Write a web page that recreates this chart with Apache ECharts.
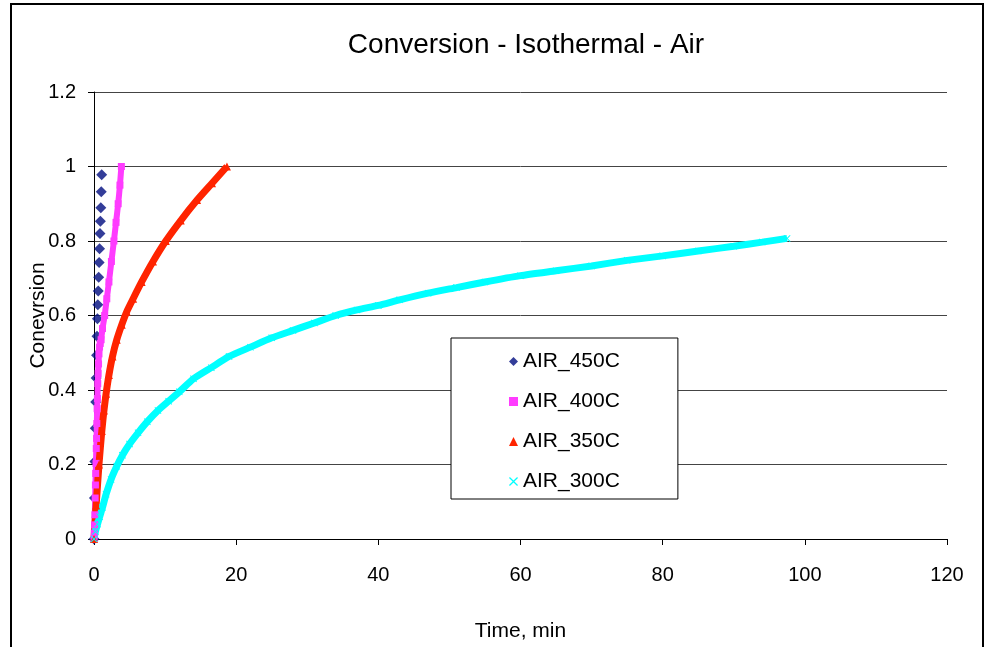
<!DOCTYPE html>
<html>
<head>
<meta charset="utf-8">
<script src="https://cdn.jsdelivr.net/npm/echarts@6/dist/echarts.min.js"></script>
<style>
  html, body { margin: 0; padding: 0; background: #fff; }
  #main { width: 985px; height: 647px; }
</style>
</head>
<body>
<div id="main"></div>
<script>
/*series names*/
var names = ['AIR_450C', 'AIR_400C', 'AIR_350C', 'AIR_300C'];

/*AIR_450C*/
var t450 = [0, 0.06, 0.12, 0.18, 0.24, 0.30, 0.36, 0.42, 0.48, 0.54, 0.60, 0.66, 0.72, 0.78, 0.84, 0.90, 0.96, 1.02, 1.08];
var c450 = [0, 0.11, 0.208, 0.297, 0.368, 0.432, 0.493, 0.544, 0.591, 0.629, 0.666, 0.703, 0.742, 0.779, 0.820, 0.853, 0.889, 0.932, 0.978];

/*AIR_400C*/
var t400 = [0, 0.04, 0.08, 0.12, 0.16, 0.2, 0.24, 0.28, 0.32, 0.36, 0.4, 0.44, 0.48, 0.53, 0.58, 0.64, 0.7, 0.78, 0.88, 1.0, 1.2, 1.5, 1.8, 2.1, 2.45, 2.8, 3.1, 3.4, 3.65, 3.85];
var c400 = [0, 0.016, 0.038, 0.065, 0.11, 0.145, 0.176, 0.203, 0.243, 0.27, 0.31, 0.35, 0.377, 0.417, 0.444, 0.47, 0.497, 0.515, 0.525, 0.535, 0.565, 0.6, 0.645, 0.69, 0.745, 0.8, 0.85, 0.9, 0.95, 1.0];

/*AIR_350C*/
var t350 = [0, 0.3, 0.7, 1.1, 1.4, 1.7, 2.1, 2.6, 3.2, 3.9, 4.6, 5.5, 6.7, 8.3, 10.1, 12.2, 14.5, 16.6, 18.7];
var c350 = [0, 0.09, 0.2, 0.29, 0.345, 0.39, 0.44, 0.49, 0.535, 0.575, 0.61, 0.645, 0.69, 0.745, 0.8, 0.855, 0.91, 0.955, 1.0];

/*AIR_300C*/
var t300 = [0, 0.2, 0.5, 0.8, 1.2, 1.7, 2.4, 3.2, 4.0, 5.0, 6.2, 7.5, 9.0, 10.5, 12.0, 14.0, 16.5, 19.0, 22.0, 25.0, 28.0, 31.0, 34.0, 37.0, 40.0, 43.0, 47.0, 51.0, 55.0, 60.0, 65.0, 70.0, 75.0, 80.0, 85.0, 90.0, 94.0, 97.5];
var c300 = [0, 0.02, 0.04, 0.06, 0.085, 0.12, 0.16, 0.195, 0.225, 0.255, 0.285, 0.315, 0.345, 0.37, 0.395, 0.43, 0.46, 0.49, 0.515, 0.54, 0.56, 0.58, 0.60, 0.615, 0.627, 0.642, 0.66, 0.675, 0.69, 0.707, 0.72, 0.733, 0.748, 0.76, 0.773, 0.786, 0.797, 0.807];

/*axis ticks*/
var xTicks = [0, 120, 20];
var yTicks = [0, 1.2, 0.2];

var FONT = '"Liberation Sans", Arial, sans-serif';
var xMark = 'path://M0,1L1,0L5,4L9,0L10,1L6,5L10,9L9,10L5,6L1,10L0,9L4,5Z';

function pairs(t, c) {
	var out = [];
	for (var i = 0; i < t.length; i++) {
		out.push([t[i], c[i]]);
	}
	return out;
}

var myChart = echarts.init(document.getElementById('main'));

var option = {
	animation: false,
	backgroundColor: '#fff',
	title: {
		text: 'Conversion - Isothermal - Air',
		left: 521,
		textAlign: 'center',
		top: 26,
		textStyle: { fontFamily: FONT, fontSize: 28, fontWeight: 'normal', color: '#000' }
	},
	graphic: [{
		type: 'rect',
		shape: { x: 11, y: 4, width: 972, height: 700 },
		style: { fill: 'none', stroke: '#000', lineWidth: 2 },
		silent: true
	}],
	grid: { left: 94, right: 38, top: 92, bottom: 106 },
	legend: {
		orient: 'vertical',
		left: 451,
		top: 338,
		padding: [13, 58, 7, 58],
		itemGap: 19,
		itemWidth: 9,
		itemHeight: 9,
		backgroundColor: '#fff',
		borderColor: '#000',
		borderWidth: 1,
		textStyle: { fontFamily: FONT, fontSize: 21, color: '#000' },
		data: [
			{ name: names[0], icon: 'diamond' },
			{ name: names[1], icon: 'rect' },
			{ name: names[2], icon: 'triangle' },
			{ name: names[3], icon: xMark }
		]
	},
	xAxis: {
		type: 'value',
		min: xTicks[0],
		max: xTicks[1],
		interval: xTicks[2],
		name: 'Time, min',
		nameLocation: 'middle',
		nameGap: 82,
		nameMoveOverlap: false,
		nameTextStyle: { fontFamily: FONT, fontSize: 21, color: '#000' },
		axisLine: { lineStyle: { color: '#000', width: 1 } },
		axisTick: { show: true, length: 6, lineStyle: { color: '#000' } },
		axisLabel: { margin: 26, fontFamily: FONT, fontSize: 20, color: '#000' },
		splitLine: { show: false }
	},
	yAxis: {
		type: 'value',
		min: yTicks[0],
		max: yTicks[1],
		interval: yTicks[2],
		name: 'Conevrsion',
		nameLocation: 'middle',
		nameRotate: 90,
		nameGap: 45,
		nameMoveOverlap: false,
		nameTextStyle: { fontFamily: FONT, fontSize: 21, color: '#000' },
		axisLine: { show: true, lineStyle: { color: '#000', width: 1 } },
		axisTick: { show: true, length: 6, lineStyle: { color: '#000' } },
		axisLabel: { margin: 18, fontFamily: FONT, fontSize: 20, color: '#000' },
		splitLine: { show: true, lineStyle: { color: '#444', width: 1 } }
	},
	series: [
		{
			name: names[0],
			type: 'scatter',
			symbol: 'diamond',
			symbolSize: 11,
			itemStyle: { color: '#000c80' },
			data: pairs(t450, c450)
		},
		{
			name: names[1],
			type: 'line',
			symbol: 'rect',
			symbolSize: 7,
			showSymbol: true,
			smooth: 0.2,
			itemStyle: { color: '#ff3cff' },
			lineStyle: { color: '#ff3cff', width: 6 },
			data: pairs(t400, c400)
		},
		{
			name: names[2],
			type: 'line',
			symbol: 'triangle',
			symbolSize: 8,
			showSymbol: true,
			smooth: 0.2,
			itemStyle: { color: '#ff2400' },
			lineStyle: { color: '#ff2400', width: 7 },
			data: pairs(t350, c350)
		},
		{
			name: names[3],
			type: 'line',
			symbol: xMark,
			symbolSize: 7,
			showSymbol: true,
			smooth: 0.2,
			itemStyle: { color: '#00ffff' },
			lineStyle: { color: '#00ffff', width: 7 },
			data: pairs(t300, c300)
		}
	]
};

myChart.setOption(option);
</script>
</body>
</html>
